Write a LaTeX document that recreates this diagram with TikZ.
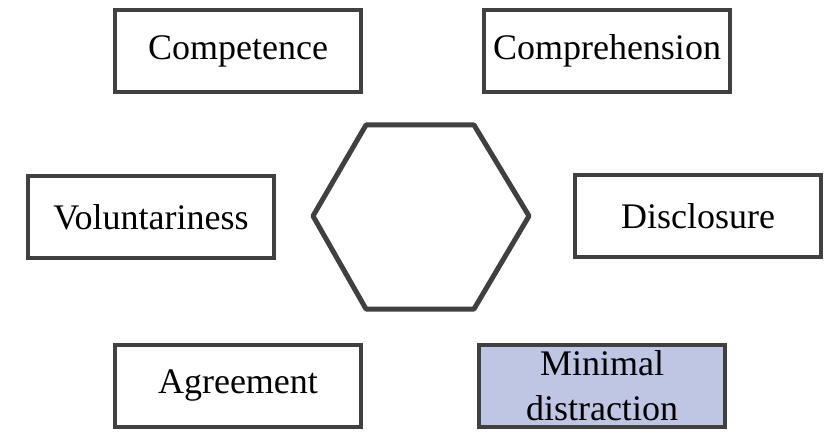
\documentclass[tikz,border=0pt]{standalone}
\usepackage{fontspec}
\setmainfont{Liberation Serif}
\definecolor{edge}{RGB}{64,64,64}
\definecolor{lav}{RGB}{190,198,228}
\begin{document}
\begin{tikzpicture}[x=1pt,y=-1pt,
  box/.style={draw=edge, line width=4pt, rectangle, minimum width=246pt, minimum height=82pt, inner sep=0pt, font=\fontsize{36}{42}\selectfont, align=center, text=black},
  hexline/.style={draw=edge, line width=5pt, line join=round}]
\useasboundingbox (0,0) rectangle (833,433);
\fill[white] (0,0) rectangle (833,433);
\node[box] (comp) at (238,51) {Competence};
\node[box] (compr) at (607,51) {Comprehension};
\node[box] (vol) at (151,217) {Voluntariness};
\node[box] (disc) at (698,216) {Disclosure};
\node[box] (agr) at (238,386) {Agreement};
\node[box, fill=lav] (mind) at (602,386) {Minimal\\[3pt]distraction};
\coordinate (h1) at (313,216);
\coordinate (h2) at (366,125);
\coordinate (h3) at (474,125);
\coordinate (h4) at (529,216);
\coordinate (h5) at (474,309);
\coordinate (h6) at (366,309);
\draw[hexline] (h1) -- (h2) -- (h3) -- (h4) -- (h5) -- (h6) -- cycle;
\end{tikzpicture}
\end{document}
